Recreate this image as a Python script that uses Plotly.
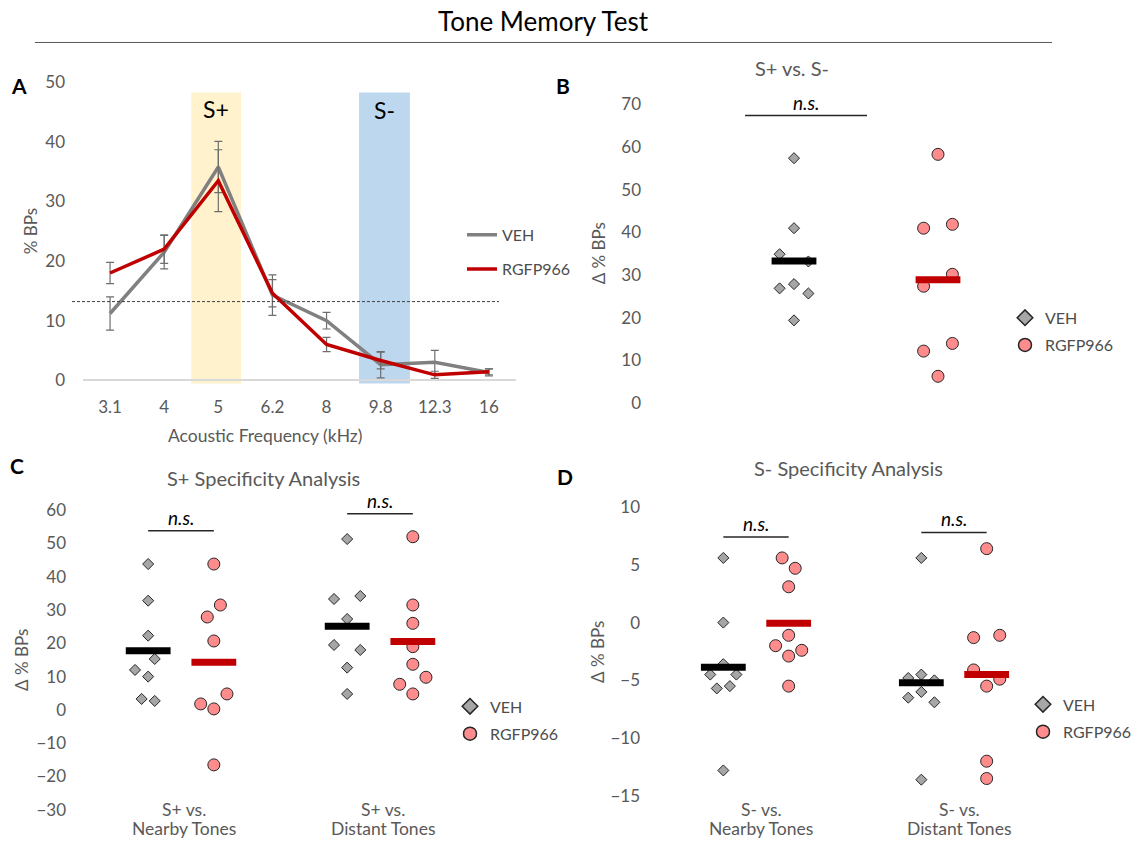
import numpy as np
import plotly.graph_objects as go

W, H = 1137, 842
FONT = "Lato"
GRAY_TXT = "#595959"

# ---------------- data ----------------
freq_labels = ["3.1", "4", "5", "6.2", "8", "9.8", "12.3", "16"]
veh_curve = [11.2, 21.5, 35.8, 14.3, 10.0, 2.6, 3.0, 1.3]
veh_sem = [2.8, 2.8, 4.3, 3.4, 1.4, 2.2, 2.0, 0.6]
rgfp_curve = [18.0, 22.0, 33.5, 14.6, 6.0, 3.3, 0.9, 1.4]
rgfp_sem = [1.8, 2.4, 5.2, 2.3, 1.2, 1.4, 0.6, 0.5]
chance_level = 13.2

# Panel B : S+ vs S-
b_veh = [57.4, 41.0, 34.9, 33.2, 26.9, 27.9, 25.7, 19.4]
b_veh_jit = [0, 0, -1, 1, -1, 0, 1, 0]
b_rgfp = [58.3, 41.0, 41.9, 30.2, 27.4, 12.2, 14.0, 6.3]
b_rgfp_jit = [0, -1, 1, 1, -1, -1, 1, 0]

# Panel C : S+ specificity
c_categories = ["S+ vs.", "S+ vs."]
c_sub = ["Nearby Tones", "Distant Tones"]
c_near_veh = [43.8, 32.8, 22.3, 15.3, 12.0, 10.0, 3.3, 2.7]
c_near_veh_jit = [0, 0, 0, 1, -2, 0, -1, 1]
c_near_rgfp = [43.8, 31.5, 27.9, 20.7, 4.8, 1.8, 0.3, -16.5]
c_near_rgfp_jit = [0, 1, -1, 0, 2, -2, 0, 0]
c_dist_veh = [51.3, 34.2, 33.3, 27.3, 19.5, 18.0, 12.7, 4.8]
c_dist_veh_jit = [0, 2, -2, 0, -2, 2, 0, 0]
c_dist_rgfp = [52.0, 31.5, 26.0, 19.0, 13.7, 9.8, 7.7, 4.8]
c_dist_rgfp_jit = [0, 0, 0, 0, 0, 2, -2, 0]

# Panel D : S- specificity
d_categories = ["S- vs.", "S- vs."]
d_sub = ["Nearby Tones", "Distant Tones"]
d_near_veh = [5.6, 0.0, -3.6, -4.5, -4.5, -5.7, -5.5, -12.8]
d_near_veh_jit = [0, 0, 0, -2, 2, -1, 1, 0]
d_near_rgfp = [5.6, 4.7, 3.1, -1.1, -2.0, -2.4, -2.9, -5.5]
d_near_rgfp_jit = [-1, 1, 0, 0, -2, 2, 0, 0]
d_dist_veh = [5.6, -4.5, -4.8, -5.0, -6.0, -6.5, -6.9, -13.6]
d_dist_veh_jit = [0, 0, -2, 2, 0, -2, 2, 0]
d_dist_rgfp = [6.4, -1.1, -1.3, -4.1, -4.9, -5.5, -12.0, -13.5]
d_dist_rgfp_jit = [0, 2, -2, -2, 2, 0, 0, 0]

# significance bars (y level)
b_sig_y = 67.4
c_sig_y = [53.8, 58.9]
d_sig_y = [7.4, 7.8]

# ---------------- styles ----------------
VEH_LINE = "#808080"
RGFP_LINE = "#C00000"
VEH_FILL = "#A6A6A6"
RGFP_FILL = "#FF8C8C"
EDGE = "#262626"
ERR = "#6E6E6E"


def Y(p):
    # target vertical pixel -> figure pixel (compensates the vertical fit of the capture)
    return (p - 7.5) / 0.983


def axis_px(v_a, p_a, v_b, p_b, p_lo, p_hi, vertical):
    if vertical:
        p_a, p_b, p_lo, p_hi = Y(p_a), Y(p_b), Y(p_lo), Y(p_hi)
    k = (p_b - p_a) / (v_b - v_a)
    r = [v_a + (p_lo - p_a) / k, v_a + (p_hi - p_a) / k]
    if vertical:
        d = [1 - p_lo / H, 1 - p_hi / H]
    else:
        d = [p_lo / W, p_hi / W]
    return r, d


def fx(px):
    return px / W


def fy(py):
    return 1 - Y(py) / H


fig = go.Figure()

# ---------- Panel A ----------
fig.add_trace(go.Scatter(
    x=freq_labels, y=veh_curve, mode="lines", name="VEH",
    line=dict(color=VEH_LINE, width=3.5),
    error_y=dict(type="data", array=veh_sem, color=ERR, thickness=1.2, width=4),
    xaxis="x", yaxis="y", legend="legend", legendgroup="a1"))
fig.add_trace(go.Scatter(
    x=freq_labels, y=rgfp_curve, mode="lines", name="RGFP966",
    line=dict(color=RGFP_LINE, width=3.5),
    error_y=dict(type="data", array=rgfp_sem, color=ERR, thickness=1.2, width=4),
    xaxis="x", yaxis="y", legend="legend", legendgroup="a2"))


def swarm(xc, vals, jit, step, kind, xa, ya):
    xs = [xc + j * step for j in jit]
    if kind == "veh":
        mk = dict(symbol="diamond", size=8.5, color=VEH_FILL, line=dict(width=1, color=EDGE))
        bar = "black"
    else:
        mk = dict(symbol="circle", size=12, color=RGFP_FILL, line=dict(width=1, color=EDGE))
        bar = RGFP_LINE
    fig.add_trace(go.Scatter(x=xs, y=vals, mode="markers", marker=mk, showlegend=False,
                             xaxis=xa, yaxis=ya, hoverinfo="y"))
    return (xc, float(np.mean(vals)), bar, xa, ya)


def mean_bar(m):
    xc, mv, col, xa, ya = m
    fig.add_trace(go.Scatter(x=[xc], y=[mv], mode="markers", showlegend=False,
                             marker=dict(symbol="line-ew", size=32, line=dict(width=7, color=col)),
                             xaxis=xa, yaxis=ya, hoverinfo="y"))


def legend_items(leg, xa, ya):
    fig.add_trace(go.Scatter(x=[None], y=[None], mode="markers", name="VEH",
                             marker=dict(symbol="diamond", size=12, color=VEH_FILL, line=dict(width=1.5, color=EDGE)),
                             xaxis=xa, yaxis=ya, legend=leg, legendgroup=leg + "v"))
    fig.add_trace(go.Scatter(x=[None], y=[None], mode="markers", name="RGFP966",
                             marker=dict(symbol="circle", size=13, color=RGFP_FILL, line=dict(width=1.5, color=EDGE)),
                             xaxis=xa, yaxis=ya, legend=leg, legendgroup=leg + "r"))


# ---------- Panel B ----------
mb = [swarm(1, b_veh, b_veh_jit, 0.1, "veh", "x2", "y2"),
      swarm(2, b_rgfp, b_rgfp_jit, 0.1, "rgfp", "x2", "y2")]
for m in mb:
    mean_bar(m)
legend_items("legend2", "x2", "y2")

# ---------- Panel C ----------
SUB = 0.165
STEP = 0.033
mc = [swarm(0 - SUB, c_near_veh, c_near_veh_jit, STEP, "veh", "x3", "y3"),
      swarm(0 + SUB, c_near_rgfp, c_near_rgfp_jit, STEP, "rgfp", "x3", "y3"),
      swarm(1 - SUB, c_dist_veh, c_dist_veh_jit, STEP, "veh", "x3", "y3"),
      swarm(1 + SUB, c_dist_rgfp, c_dist_rgfp_jit, STEP, "rgfp", "x3", "y3")]
for m in mc:
    mean_bar(m)
legend_items("legend3", "x3", "y3")

# ---------- Panel D ----------
md = [swarm(0 - SUB, d_near_veh, d_near_veh_jit, STEP, "veh", "x4", "y4"),
      swarm(0 + SUB, d_near_rgfp, d_near_rgfp_jit, STEP, "rgfp", "x4", "y4"),
      swarm(1 - SUB, d_dist_veh, d_dist_veh_jit, STEP, "veh", "x4", "y4"),
      swarm(1 + SUB, d_dist_rgfp, d_dist_rgfp_jit, STEP, "rgfp", "x4", "y4")]
for m in md:
    mean_bar(m)
legend_items("legend4", "x4", "y4")

# ---------------- axes ----------------
tickfont = dict(family=FONT, size=17, color=GRAY_TXT)
ya_r, ya_d = axis_px(0, 380, 50, 82, 384, 79, True)
xb_r, xb_d = axis_px(1, 794, 2, 938, 648, 1010, False)
yb_r, yb_d = axis_px(0, 403, 70, 104, 406, 100, True)
xc_r, xc_d = axis_px(0, 181, 1, 380, 70, 462, False)
yc_r, yc_d = axis_px(60, 510, -30, 810, 813, 505, True)
xd_r, xd_d = axis_px(0, 756, 1, 954, 642, 1035, False)
yd_r, yd_d = axis_px(10, 507, -15, 796, 800, 503, True)

hidden_x = dict(showgrid=False, zeroline=False, showline=False, showticklabels=False, ticks="", fixedrange=True)

layout = dict(
    width=W, height=H, autosize=False,
    margin=dict(l=0, r=0, t=0, b=0),
    paper_bgcolor="white", plot_bgcolor="white",
    font=dict(family=FONT, size=16, color=GRAY_TXT),
    showlegend=True,
    xaxis=dict(domain=[fx(83), fx(516)], range=[-0.5, 7.5], type="category", anchor="y",
               showgrid=False, zeroline=False, showline=False, ticks="",
               tickfont=tickfont, ticklabelstandoff=11),
    yaxis=dict(domain=ya_d, range=ya_r, anchor="x", showgrid=False,
               zeroline=True, zerolinecolor="#D9D9D9", zerolinewidth=1.5,
               showline=False, ticks="", tickvals=[0, 10, 20, 30, 40, 50],
               tickfont=tickfont, ticklabelstandoff=17),
    xaxis2=dict(domain=xb_d, range=xb_r, anchor="y2", **hidden_x),
    yaxis2=dict(domain=yb_d, range=yb_r, anchor="x2", showgrid=False, zeroline=False,
                showline=False, ticks="", tickvals=list(range(0, 71, 10)),
                tickfont=tickfont, ticklabelstandoff=6),
    xaxis3=dict(domain=xc_d, range=xc_r, anchor="y3", **hidden_x),
    yaxis3=dict(domain=yc_d, range=yc_r, anchor="x3", showgrid=False, zeroline=False,
                showline=False, ticks="", tickvals=list(range(-30, 61, 10)),
                tickfont=tickfont, ticklabelstandoff=3),
    xaxis4=dict(domain=xd_d, range=xd_r, anchor="y4", **hidden_x),
    yaxis4=dict(domain=yd_d, range=yd_r, anchor="x4", showgrid=False, zeroline=False,
                showline=False, ticks="", tickvals=[-15, -10, -5, 0, 5, 10],
                tickfont=tickfont, ticklabelstandoff=1),
)

leg_common = dict(font=dict(family=FONT, size=16, color="#4D4D4D"), bgcolor="rgba(0,0,0,0)",
                  borderwidth=0, xanchor="left", yanchor="top", traceorder="grouped")
LEG_OFF = 17.5
layout["legend"] = dict(x=fx(462), y=fy(235 - LEG_OFF), tracegroupgap=10.5, **leg_common)
layout["legend2"] = dict(x=fx(1005), y=fy(318 - LEG_OFF), tracegroupgap=3.5, **leg_common)
layout["legend3"] = dict(x=fx(450), y=fy(707 - LEG_OFF), tracegroupgap=3.5, **leg_common)
layout["legend4"] = dict(x=fx(1023), y=fy(705 - LEG_OFF), tracegroupgap=3.5, **leg_common)

fig.update_layout(**layout)

# ---------------- shapes ----------------
shapes = []
# title rule
shapes.append(dict(type="line", xref="paper", yref="paper", x0=fx(35), x1=fx(1052), y0=fy(42), y1=fy(42),
                   line=dict(color="#595959", width=1)))
# S+ / S- bands
shapes.append(dict(type="rect", xref="x", yref="y", x0=1.5, x1=2.42, y0=-0.55, y1=48.3,
                   fillcolor="#FFF2CC", line=dict(width=0), layer="below"))
shapes.append(dict(type="rect", xref="x", yref="y", x0=4.6, x1=5.54, y0=-0.55, y1=48.3,
                   fillcolor="#BDD7EE", line=dict(width=0), layer="below"))
# chance line
shapes.append(dict(type="line", xref="paper", yref="y", x0=fx(72), x1=fx(499), y0=chance_level, y1=chance_level,
                   line=dict(color="#404040", width=1, dash="3px,2px")))
# significance bars
sig_lines = [("x2", "y2", 0.66, 1.507, b_sig_y),
             ("x3", "y3", -SUB, SUB, c_sig_y[0]), ("x3", "y3", 1 - SUB, 1 + SUB, c_sig_y[1]),
             ("x4", "y4", -SUB, SUB, d_sig_y[0]), ("x4", "y4", 1 - SUB, 1 + SUB, d_sig_y[1])]
for xa, ya, x0, x1, yv in sig_lines:
    shapes.append(dict(type="line", xref=xa, yref=ya, x0=x0, x1=x1, y0=yv, y1=yv,
                       line=dict(color="#262626", width=1.5)))
fig.update_layout(shapes=shapes)

# ---------------- annotations ----------------
ann = []


def txt(text, x, y, size=16, color=GRAY_TXT, xref="paper", yref="paper", angle=0, bold=False, italic=False,
        yanchor="middle", xanchor="center", xshift=0, yshift=0):
    if bold:
        text = "<b>" + text + "</b>"
    if italic:
        text = "<i>" + text + "</i>"
    ann.append(dict(text=text, x=x, y=y, xref=xref, yref=yref, showarrow=False, textangle=angle,
                    font=dict(family=FONT, size=size, color=color), xanchor=xanchor, yanchor=yanchor,
                    xshift=xshift, yshift=yshift))


txt("Tone Memory Test", fx(543), fy(21), size=26, color="black")
for lab, px, py in [("A", 19, 85), ("B", 563, 85), ("C", 17, 465), ("D", 565, 476)]:
    txt(lab, fx(px), fy(py), size=21, color="black", bold=True)

txt("S+ vs. S-", fx(792), fy(68), size=20)
txt("S+ Specificity Analysis", fx(263), fy(478), size=20)
txt("S- Specificity Analysis", fx(848), fy(468), size=20)

txt("% BPs", fx(30), fy(231), size=17, angle=-90)
txt("Δ % BPs", fx(598), fy(253), size=17, angle=-90)
txt("Δ % BPs", fx(22), fy(660), size=17, angle=-90)
txt("Δ % BPs", fx(598), fy(652), size=17, angle=-90)
txt("Acoustic Frequency (kHz)", fx(265), fy(435), size=17.5)

txt("S+", 1.96, 45.6, size=23, color="black", xref="x", yref="y")
txt("S-", 5.07, 45.4, size=23, color="black", xref="x", yref="y")

for xa, ya, x0, x1, yv in sig_lines:
    txt("n.s.", (x0 + x1) / 2, yv, size=19, color="black", xref=xa, yref=ya, italic=True,
        yanchor="bottom", yshift=0)

for i in range(2):
    txt(c_categories[i], i, fy(810), size=17.5, xref="x3", xshift=3)
    txt(c_sub[i], i, fy(829), size=17.5, xref="x3", xshift=3)
    txt(d_categories[i], i, fy(810), size=17.5, xref="x4", xshift=5)
    txt(d_sub[i], i, fy(829), size=17.5, xref="x4", xshift=5)

fig.update_layout(annotations=ann)

fig.write_html("out.html")
